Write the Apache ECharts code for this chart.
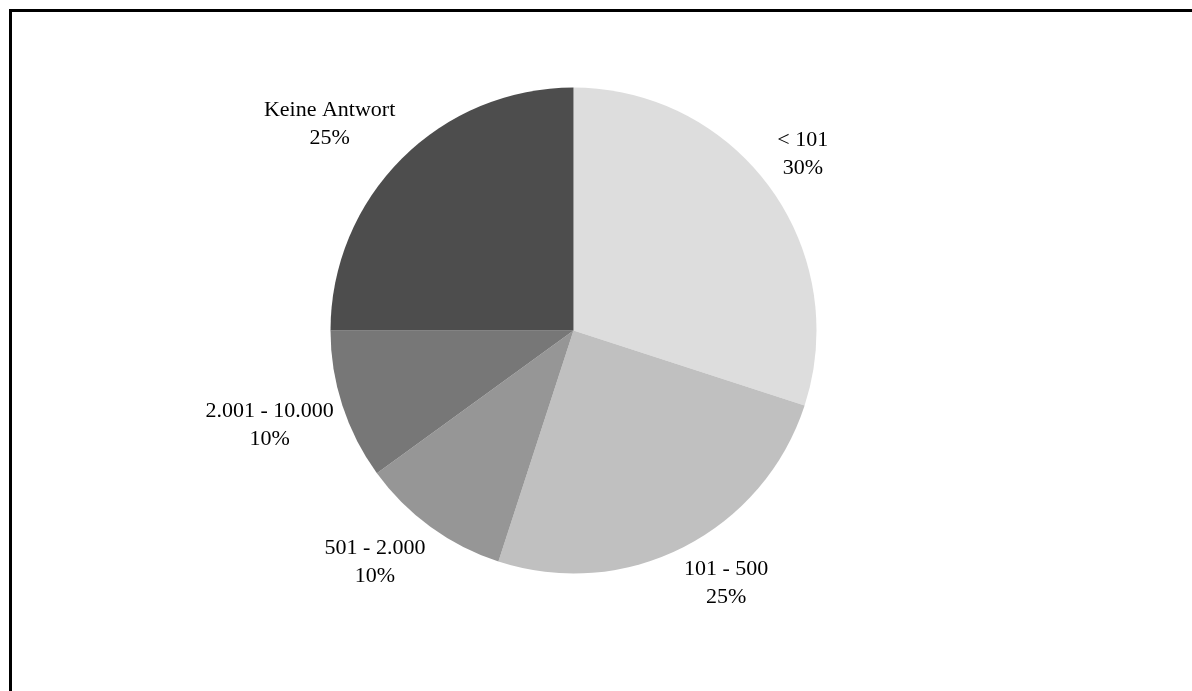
<!DOCTYPE html>
<html>
<head>
<meta charset="utf-8">
<style>
  html, body { margin: 0; padding: 0; background: #ffffff; }
  #chart { width: 1192px; height: 691px; }
</style>
<script src="https://cdn.jsdelivr.net/npm/echarts@6/dist/echarts.min.js"></script>
</head>
<body>
<div id="chart"></div>
<script>
// Categories (clockwise from 12 o'clock), their shares in percent and slice colours
const categories = ['< 101', '101 - 500', '501 - 2.000', '2.001 - 10.000', 'Keine Antwort'];
const shares = [30, 25, 10, 10, 25];
const sliceColors = ['#dddddd', '#c0c0c0', '#969696', '#777777', '#4d4d4d'];

const pieCenter = [573.5, 330.5];
const pieRadius = 243;
const labelRing = 252;   // distance of the label's attachment point from the centre

const total = shares.reduce((a, b) => a + b, 0);

// mid-angle of each slice, measured clockwise from the top
function midAngle(i) {
  let before = 0;
  for (let k = 0; k < i; k++) before += shares[k];
  return (before + shares[i] / 2) / total * 2 * Math.PI;
}

const clamp = (v, lo, hi) => Math.max(lo, Math.min(hi, v));

const chart = echarts.init(document.getElementById('chart'), null, { renderer: 'canvas' });

chart.setOption({
  backgroundColor: '#ffffff',
  animation: false,
  graphic: [{
    type: 'rect',
    shape: { x: 10.5, y: 10.5, width: 1400, height: 900 },
    style: { fill: 'none', stroke: '#000000', lineWidth: 3 },
    silent: true
  }],
  series: [{
    type: 'pie',
    center: pieCenter,
    radius: pieRadius,
    startAngle: 90,
    clockwise: true,
    avoidLabelOverlap: false,
    itemStyle: { borderWidth: 0 },
    label: {
      show: true,
      position: 'outside',
      formatter: '{b}\n{c}%',
      fontFamily: '"Liberation Serif", "Times New Roman", serif',
      fontSize: 22,
      lineHeight: 28,
      color: '#000000',
      align: 'center'
    },
    labelLine: { show: false },
    // place each label box just outside the rim, its near corner/edge facing the slice
    labelLayout: function (params) {
      const a = midAngle(params.dataIndex);
      const dx = Math.sin(a), dy = -Math.cos(a);
      const w = params.labelRect.width, h = params.labelRect.height;
      const ax = pieCenter[0] + labelRing * dx;
      const ay = pieCenter[1] + labelRing * dy;
      return {
        x: ax + clamp(2 * dx, -1, 1) * w / 2,
        y: ay + clamp(2 * dy, -1, 1) * h / 2,
        align: 'center',
        verticalAlign: 'middle'
      };
    },
    emphasis: { disabled: true },
    data: categories.map((name, i) => ({
      name: name,
      value: shares[i],
      itemStyle: { color: sliceColors[i] }
    }))
  }]
});
</script>
</body>
</html>
